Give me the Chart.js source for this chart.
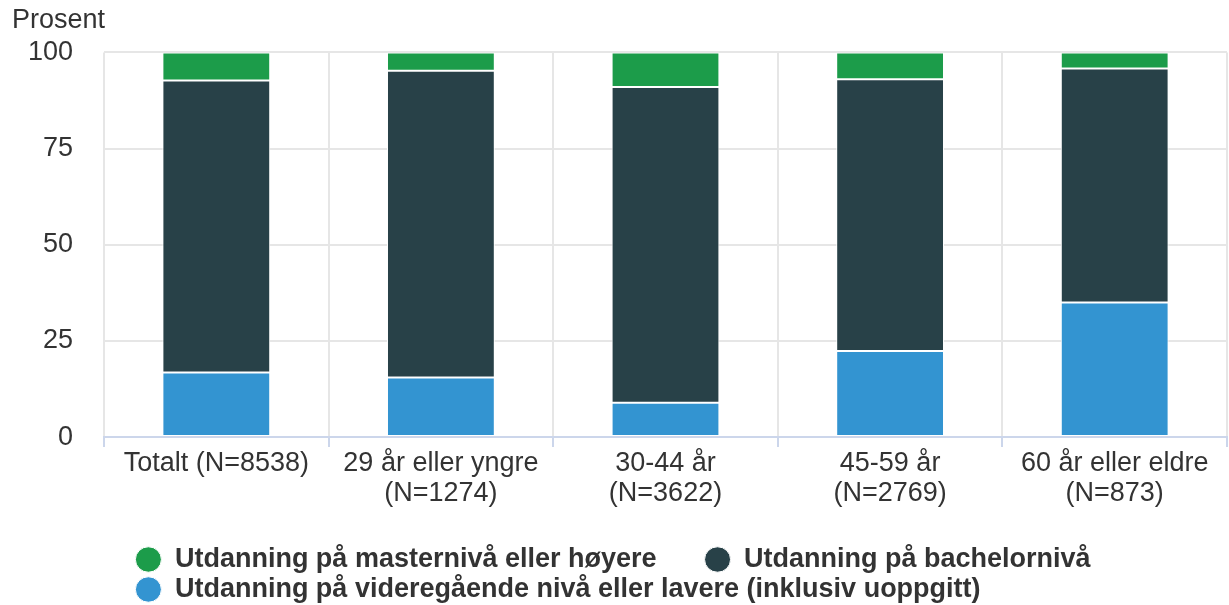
<!DOCTYPE html>
<html>
<head>
<meta charset="utf-8">
<script src="https://cdn.jsdelivr.net/npm/chart.js@4"></script>
<style>
  html, body { margin: 0; padding: 0; background: #fff; }
  #wrap { width: 1229px; height: 605px; }
</style>
</head>
<body>
<div id="wrap"><canvas id="myChart"></canvas></div>
<script>
// Andel etter utdanningsnivå, per aldersgruppe (prosent)
const categories = [
    'Totalt (N=8538)',
    ['29 år eller yngre', '(N=1274)'],
    ['30-44 år', '(N=3622)'],
    ['45-59 år', '(N=2769)'],
    ['60 år eller eldre', '(N=873)']
];
const videregaende = [16.8, 15.5, 8.9, 22.4, 35.0];
const bachelor = [75.9, 79.7, 82.1, 70.6, 60.8];
const master = [7.3, 4.8, 9.0, 7.0, 4.2];
const yTicks = [0, 25, 50, 75, 100];

const fontFamily = '"Liberation Sans", Arial, sans-serif';

// centre the legend as one block, rows left-aligned
const legendBlock = {
    id: 'legendBlock',
    afterLayout(chart) {
        const lg = chart.legend;
        if (!lg || !lg.lineWidths) return;
        const pad = lg.options.labels.padding;
        lg.left = (chart.width - lg.lineWidths[0]) / 2 - pad;
    }
};

const ctx = document.getElementById('myChart').getContext('2d');
const myChart = new Chart(ctx, {
    type: 'bar',
    data: {
        labels: categories,
        datasets: [
            { label: 'Utdanning på videregående nivå eller lavere (inklusiv uoppgitt)', data: videregaende, backgroundColor: '#3394d1' },
            { label: 'Utdanning på bachelornivå', data: bachelor, backgroundColor: '#284148' },
            { label: 'Utdanning på masternivå eller høyere', data: master, backgroundColor: '#1c9c4a' }
        ]
    },
    plugins: [legendBlock],
    options: {
        responsive: true,
        maintainAspectRatio: false,
        animation: false,
        datasets: {
            bar: {
                borderColor: '#ffffff',
                borderWidth: 1,
                borderSkipped: false,
                categoryPercentage: 1,
                barPercentage: 0.48
            }
        },
        layout: { padding: { left: 12, right: 2, top: 0, bottom: -8 } },
        plugins: {
            title: {
                display: true,
                text: 'Prosent',
                align: 'start',
                color: '#333333',
                font: { family: fontFamily, size: 27, weight: 'normal', lineHeight: 1.2 },
                padding: { top: 4, bottom: 16 }
            },
            legend: {
                position: 'bottom',
                align: 'start',
                reverse: true,
                labels: {
                    usePointStyle: true,
                    pointStyle: 'circle',
                    boxHeight: 18,
                    pointStyleWidth: 26,
                    padding: 3,
                    color: '#333333',
                    font: { family: fontFamily, size: 27, weight: 'bold' },
                    generateLabels(chart) {
                        const items = Chart.defaults.plugins.legend.labels.generateLabels(chart);
                        items.forEach(it => {
                            if (it.datasetIndex === 2) it.text = it.text + '      ';
                        });
                        return items;
                    }
                }
            },
            tooltip: { enabled: false }
        },
        scales: {
            x: {
                stacked: true,
                afterFit(scale) { scale.height += 32; },
                grid: {
                    color: '#e6e6e6',
                    lineWidth: 2,
                    tickColor: '#ccd6eb',
                    tickLength: 10,
                    offset: true
                },
                border: { color: '#ccd6eb', width: 2 },
                ticks: {
                    color: '#333333',
                    maxRotation: 0,
                    autoSkip: false,
                    padding: 2,
                    font: { family: fontFamily, size: 27, lineHeight: 1.11 }
                }
            },
            y: {
                stacked: true,
                min: 0,
                max: 100,
                afterBuildTicks: axis => { axis.ticks = yTicks.map(v => ({ value: v })); },
                afterFit(scale) { scale.width = 92; },
                grid: { color: '#e6e6e6', drawTicks: false, lineWidth: 2 },
                border: { display: false },
                ticks: {
                    color: '#333333',
                    padding: 31,
                    font: { family: fontFamily, size: 27 }
                }
            }
        }
    }
});
</script>
</body>
</html>
